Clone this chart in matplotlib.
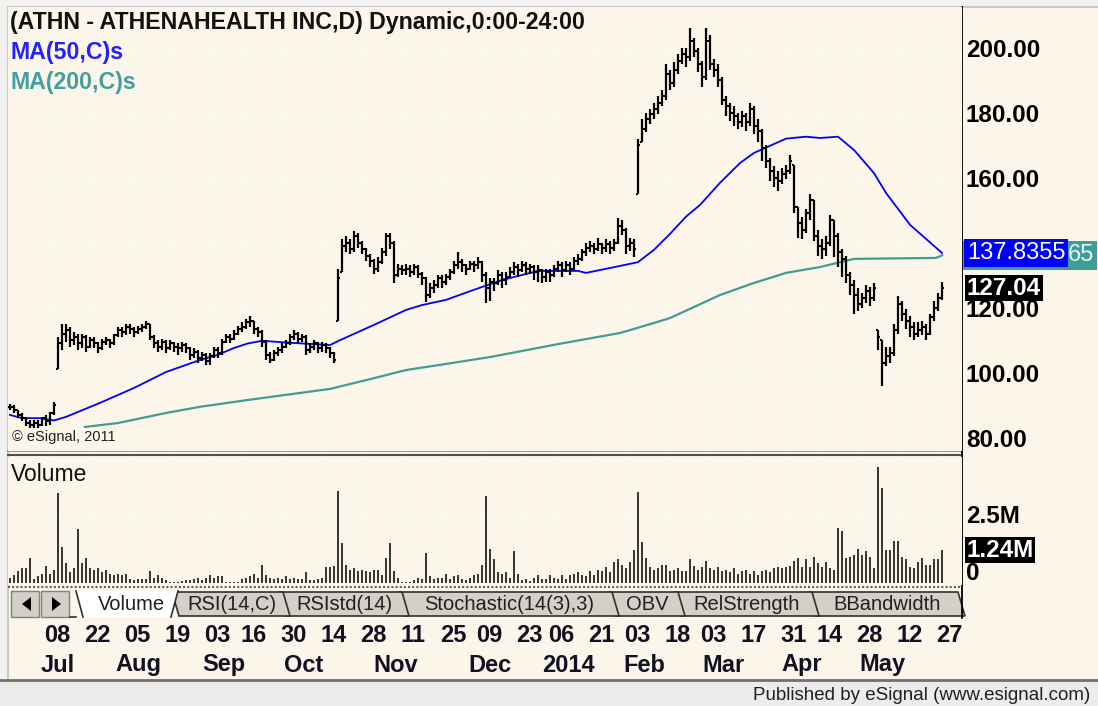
import numpy as np
import matplotlib
matplotlib.use('Agg')
import matplotlib.pyplot as plt
from matplotlib.patches import Rectangle, Polygon
from matplotlib.transforms import blended_transform_factory

plt.rcParams['font.family'] = ['Liberation Sans', 'DejaVu Sans']

W, H = 1098, 706
CREAM = '#fcf6ea'
BLUE = '#0000ff'
TEAL = '#3f9d98'

# daily bars, 21 Jun 2013 .. 27 May 2014
close = [90.5, 89.5, 88.0, 87.0, 85.5, 85.0, 85.5, 85.0, 87.0, 86.0,
         88.5, 91.0, 110.0, 113.0, 114.0, 111.0, 112.0, 110.0, 112.0, 109.0,
         111.0, 110.0, 108.5, 110.5, 111.0, 110.0, 112.5, 114.0, 113.5, 115.0,
         114.5, 113.5, 114.5, 115.0, 116.0, 112.0, 110.0, 109.0, 110.5, 108.5,
         110.0, 109.0, 108.5, 109.5, 108.5, 106.5, 107.5, 105.5, 106.5, 104.5,
         106.0, 108.0, 107.0, 110.5, 112.0, 111.5, 113.0, 114.5, 115.0, 116.5,
         117.0, 114.5, 113.5, 110.5, 106.5, 105.0, 107.0, 108.0, 109.0, 110.0,
         112.0, 113.0, 111.5, 112.0, 108.0, 109.0, 110.0, 108.5, 109.5, 108.5,
         107.0, 105.0, 130.0, 140.0, 141.0, 139.0, 143.0, 141.0, 139.0, 137.0,
         135.5, 133.0, 135.0, 138.0, 143.0, 141.0, 131.0, 133.0, 132.5, 133.0,
         132.0, 133.5, 131.5, 130.0, 125.0, 127.0, 128.0, 130.0, 129.0, 130.5,
         132.0, 134.0, 135.0, 134.0, 133.0, 134.5, 134.0, 135.0, 131.0, 127.0,
         129.0, 128.5, 131.0, 129.5, 130.5, 132.0, 133.5, 132.5, 134.0, 133.0,
         133.5, 132.0, 132.5, 130.5, 132.0, 131.0, 133.0, 134.0, 132.5, 134.0,
         133.0, 135.5, 136.0, 138.0, 139.5, 140.0, 139.0, 140.5, 139.5, 140.5,
         139.5, 141.0, 146.0, 145.0, 140.0, 141.0, 139.0, 171.0, 176.0, 179.0,
         180.5, 182.0, 184.0, 186.0, 193.0, 190.0, 194.0, 197.0, 199.0, 198.0,
         203.0, 200.0, 196.0, 192.0, 203.0, 196.0, 194.0, 191.0, 185.0, 183.0,
         181.0, 180.0, 178.0, 180.0, 178.0, 182.0, 177.0, 175.5, 170.0, 166.0,
         163.0, 161.0, 160.0, 162.0, 163.0, 166.0, 152.0, 147.0, 145.0, 150.0,
         154.0, 143.0, 140.0, 139.0, 141.0, 148.0, 143.0, 138.0, 136.0, 131.0,
         128.0, 125.0, 122.0, 124.0, 126.0, 124.0, 127.0, 112.0, 104.0, 106.0,
         107.0, 114.0, 122.0, 119.0, 117.0, 115.0, 113.0, 114.0, 115.0, 113.0,
         118.0, 121.0, 124.0, 127.04]

high = [91.5, 91.0, 89.5, 88.5, 87.5, 86.5, 86.5, 86.5, 87.5, 88.0,
        89.0, 92.0, 112.0, 116.0, 116.0, 115.0, 113.5, 113.0, 113.0, 112.5,
        112.0, 112.0, 110.5, 111.5, 112.0, 111.5, 113.0, 115.0, 115.0, 116.0,
        116.0, 115.0, 115.5, 116.0, 117.0, 116.0, 112.5, 111.0, 111.5, 111.0,
        111.0, 110.5, 110.0, 110.5, 110.0, 109.0, 108.5, 108.0, 107.5, 107.0,
        107.0, 109.0, 109.0, 111.5, 113.0, 113.0, 114.0, 115.5, 116.5, 117.5,
        118.5, 117.0, 115.0, 114.0, 111.0, 107.5, 108.0, 109.0, 110.0, 111.0,
        113.0, 114.0, 113.5, 113.0, 112.5, 110.0, 111.0, 110.5, 110.5, 110.0,
        109.0, 107.5, 133.0, 142.0, 143.0, 142.0, 144.5, 144.0, 141.5, 139.5,
        137.5, 136.0, 136.5, 139.5, 144.0, 144.0, 141.5, 134.5, 134.0, 134.5,
        134.0, 134.5, 134.0, 132.0, 130.5, 128.5, 129.5, 131.0, 131.0, 131.5,
        133.0, 135.5, 138.0, 136.0, 134.5, 135.5, 135.5, 136.5, 135.5, 132.0,
        130.0, 130.0, 132.5, 132.0, 132.0, 133.5, 135.0, 134.5, 135.5, 135.0,
        134.5, 134.0, 134.0, 133.0, 133.0, 133.0, 134.0, 135.5, 135.0, 135.5,
        135.0, 136.5, 137.5, 139.0, 141.0, 141.5, 141.0, 142.5, 141.0, 142.0,
        141.5, 142.0, 148.5, 148.0, 145.5, 142.5, 142.0, 173.0, 179.0, 181.0,
        182.0, 184.0, 186.0, 188.0, 196.0, 194.0, 196.5, 199.0, 201.0, 201.0,
        207.0, 204.0, 201.0, 197.0, 207.0, 205.0, 197.5, 196.0, 192.0, 186.0,
        184.0, 183.0, 181.0, 181.5, 181.0, 184.0, 183.0, 179.0, 176.0, 171.0,
        167.0, 164.5, 163.0, 164.0, 165.0, 168.0, 165.0, 152.0, 149.0, 151.5,
        156.0, 154.0, 145.0, 142.0, 143.0, 149.5, 148.0, 144.0, 139.0, 137.0,
        132.0, 129.5, 127.0, 125.5, 128.0, 127.5, 128.5, 114.0, 111.0, 109.0,
        109.0, 116.0, 124.5, 123.0, 120.5, 118.5, 116.5, 116.5, 117.0, 116.0,
        119.0, 123.0, 125.5, 129.0]

low = [89.5, 88.5, 87.0, 86.0, 84.5, 84.0, 84.0, 84.0, 84.5, 84.5,
       85.0, 88.0, 102.0, 108.0, 110.5, 109.0, 109.5, 108.0, 108.5, 107.5,
       108.5, 108.5, 107.0, 108.0, 109.5, 108.5, 109.5, 112.0, 112.0, 112.5,
       113.0, 112.0, 113.0, 113.5, 114.5, 111.0, 108.5, 107.5, 108.0, 107.0,
       108.0, 107.5, 106.5, 107.5, 107.0, 105.0, 105.5, 104.0, 104.5, 103.5,
       103.5, 105.5, 105.5, 106.5, 110.0, 110.0, 111.0, 112.5, 113.5, 114.5,
       115.0, 113.0, 112.0, 109.0, 105.0, 104.0, 104.5, 106.0, 107.0, 108.5,
       109.5, 111.0, 110.0, 110.5, 106.5, 107.0, 108.0, 107.0, 107.5, 107.0,
       105.5, 104.0, 117.0, 132.0, 138.0, 137.5, 138.0, 139.5, 137.5, 135.5,
       133.5, 131.5, 132.0, 134.5, 137.0, 139.0, 128.5, 130.5, 131.0, 131.0,
       130.5, 131.0, 130.0, 128.0, 122.8, 124.0, 125.5, 127.0, 127.0, 128.0,
       129.5, 131.5, 133.0, 132.0, 131.0, 132.5, 132.0, 133.0, 129.0, 122.5,
       123.0, 126.0, 128.0, 127.0, 128.0, 130.0, 131.0, 130.5, 132.0, 131.0,
       131.5, 129.5, 129.0, 128.5, 129.0, 129.0, 130.5, 132.0, 130.5, 132.0,
       131.0, 132.5, 134.0, 135.5, 137.0, 138.0, 137.5, 138.5, 137.5, 138.0,
       137.5, 138.5, 140.5, 143.5, 137.5, 138.5, 136.5, 156.0, 172.0, 175.0,
       177.5, 179.0, 180.5, 183.0, 185.0, 188.0, 189.0, 193.0, 196.0, 195.0,
       197.0, 198.0, 193.5, 189.0, 191.0, 194.0, 192.0, 189.0, 183.5, 180.0,
       178.5, 177.0, 176.0, 176.5, 175.5, 177.0, 174.5, 172.0, 166.0, 164.0,
       160.0, 158.0, 157.0, 159.0, 160.5, 162.0, 150.0, 142.5, 142.0, 144.0,
       148.0, 141.5, 137.0, 136.0, 137.0, 140.0, 136.5, 133.5, 130.5, 128.5,
       125.0, 119.0, 120.0, 121.0, 122.5, 121.5, 123.0, 108.0, 97.0, 103.0,
       104.0, 106.0, 113.0, 117.0, 114.5, 112.0, 111.0, 112.0, 112.5, 111.0,
       112.5, 117.0, 120.0, 123.5]

# volume, millions of shares
volume = [0.2, 0.3, 0.45, 0.55, 0.55, 0.95, 0.15, 0.25, 0.35, 0.65,
          0.35, 0.5, 3.4, 1.35, 0.75, 0.4, 0.55, 2.05, 0.75, 0.95,
          0.55, 0.5, 0.58, 0.4, 0.5, 0.35, 0.3, 0.35, 0.3, 0.35,
          0.15, 0.1, 0.15, 0.15, 0.15, 0.45, 0.2, 0.3, 0.2, 0.1,
          0.03, 0.03, 0.03, 0.08, 0.12, 0.1, 0.15, 0.2, 0.1, 0.2,
          0.3, 0.2, 0.25, 0.25, 0.03, 0.03, 0.03, 0.03, 0.15, 0.2,
          0.25, 0.35, 0.2, 0.67, 0.3, 0.2, 0.15, 0.2, 0.15, 0.25,
          0.15, 0.2, 0.15, 0.15, 0.42, 0.1, 0.1, 0.15, 0.2, 0.6,
          0.6, 0.65, 3.5, 1.5, 0.7, 0.5, 0.55, 0.45, 0.5, 0.45,
          0.4, 0.5, 0.5, 0.3, 0.95, 1.5, 0.45, 0.2, 0.05, 0.05,
          0.05, 0.1, 0.2, 0.15, 1.15, 0.25, 0.15, 0.2, 0.2, 0.35,
          0.15, 0.25, 0.3, 0.15, 0.1, 0.2, 0.3, 0.35, 0.7, 3.3,
          1.3, 0.9, 0.4, 0.35, 0.4, 0.2, 1.2, 0.35, 0.1, 0.15,
          0.08, 0.2, 0.3, 0.15, 0.15, 0.3, 0.2, 0.15, 0.3, 0.15,
          0.3, 0.35, 0.4, 0.3, 0.25, 0.45, 0.3, 0.5, 0.45, 0.6,
          0.4, 0.8, 0.9, 0.7, 0.55, 0.8, 1.25, 3.45, 1.55, 0.95,
          0.6, 0.5, 0.55, 0.7, 0.7, 0.45, 0.5, 0.55, 0.45, 0.45,
          0.9, 0.65, 0.5, 0.6, 0.85, 0.55, 0.5, 0.6, 0.45, 0.5,
          0.4, 0.55, 0.35, 0.45, 0.5, 0.35, 0.45, 0.3, 0.45, 0.5,
          0.4, 0.55, 0.6, 0.55, 0.6, 0.65, 0.85, 0.95, 0.6, 0.9,
          0.6, 1.0, 0.75, 0.6, 0.8, 0.55, 0.5, 2.1, 1.95, 0.95,
          1.0, 1.05, 1.3, 1.05, 1.2, 1.0, 0.55, 4.4, 3.6, 1.25,
          1.25, 1.6, 1.6, 1.0, 0.9, 0.6, 0.55, 0.8, 0.95, 0.7,
          0.7, 0.9, 0.9, 1.24]

# moving averages as drawn (bar index, value)
ma50_at = [0, 3, 7.5, 11, 14, 22.5, 31, 39, 47.5, 52, 56, 59.5, 63, 70, 80, 82.5,
           91, 99, 103, 109, 116, 123, 132, 142, 144, 150, 157, 161, 165, 169,
           172.5, 177.5, 182.5, 186, 194, 199, 202.5, 207, 211, 216, 219, 225, 233]
ma50 = [88.0, 87.0, 87.0, 86.3, 87.4, 91.7, 96.3, 101.2, 104.9, 106.5, 108.6, 110.0,
        110.8, 110.2, 109.5, 111.0, 115.7, 120.3, 121.8, 123.4, 126.5, 129.5, 132.3,
        132.3, 131.7, 133.2, 135.0, 138.8, 143.7, 149.0, 152.6, 159.4, 165.5, 168.6,
        173.0, 173.6, 173.2, 173.6, 169.5, 162.4, 156.3, 146.5, 137.8355]
ma200_at = [18.75, 27, 39, 47.5, 59.5, 80, 90, 99, 107.5, 120, 137.5, 152.5, 157.5,
            165, 177.5, 186, 194, 202.5, 211, 231.5, 233]
ma200 = [84.3, 85.5, 88.6, 90.5, 92.6, 96.0, 99.0, 101.8, 103.4, 105.8, 109.9, 113.2,
         115.0, 117.8, 124.9, 128.6, 131.7, 133.5, 136.0, 136.3, 137.1]

# date axis
day_labels = ['08', '22', '05', '19', '03', '16', '30', '14', '28', '11', '25', '09',
              '23', '06', '21', '03', '18', '03', '17', '31', '14', '28', '12', '27']
day_bar = [10, 20, 30, 40, 50, 59, 69, 79, 89, 99, 109, 118,
           128, 136, 146, 155, 165, 174, 184, 194, 203, 213, 223, 233]
month_labels = ['Jul', 'Aug', 'Sep', 'Oct', 'Nov', 'Dec', '2014', 'Feb', 'Mar', 'Apr', 'May']
month_pos = [12, 32, 53.5, 73.5, 96.5, 120, 139.5, 158.5, 178.5, 198, 218]

# 140.00 sits under the MA(50) value box on the chart, so it is not drawn
price_ticks = [200, 180, 160, 120, 100, 80]
tabs = ['Volume', 'RSI(14,C)', 'RSIstd(14)', 'Stochastic(14(3),3)', 'OBV',
        'RelStrength', 'BBandwidth']
tab_x = [(76, 178), (172, 283), (279, 402), (398, 612), (608, 678), (674, 812), (808, 958)]


def box(x0, y0, x1, y1):
    return [x0 / W, 1 - y1 / H, (x1 - x0) / W, (y1 - y0) / H]


fig = plt.figure(figsize=(W / 100, H / 100), dpi=100)
fig.patch.set_facecolor(CREAM)

# background / frame pieces in pixel coordinates
bg = fig.add_axes([0, 0, 1, 1])
bg.set_xlim(0, W)
bg.set_ylim(H, 0)
bg.axis('off')
bg.add_patch(Rectangle((0, 0), W, 7, color='#f2f2f2'))
bg.add_patch(Rectangle((0, 0), 8, H, color='#f2f2f2'))
bg.plot([8, 8], [7, 680], color='#c8c8c8', lw=1.5)
bg.plot([8, W], [7, 7], color='#c8c8c8', lw=1.5)
bg.add_patch(Rectangle((0, 681), W, 25, color='#ececec'))
bg.plot([0, W], [680, 680], color='#707070', lw=2)
bg.plot([8, 962], [451, 451], color='#9a9a9a', lw=1.5)
bg.plot([8, 962], [455, 455], color='#505050', lw=1.5)
bg.plot([8, 962], [587, 587], color='#606060', lw=1.5, ls=(0, (1, 1)))
bg.plot([962, 962], [7, 618], color='black', lw=1.3)

# scroll buttons
for bx0, pts in [(11, [(31, 597), (31, 611), (22, 604)]), (41, [(52, 597), (52, 611), (61, 604)])]:
    bg.add_patch(Rectangle((bx0, 591), 28, 26, fc='#d4d0c8', ec='#808080', lw=1))
    bg.add_patch(Polygon(pts, closed=True, fc='black', ec='none'))

# tabs
for k in range(len(tabs) - 1, 0, -1):
    x0, x1 = tab_x[k]
    bg.add_patch(Polygon([(x0, 592), (x1, 592), (x1 + 7, 616), (x0 + 7, 616)],
                         closed=True, fc='#d4d0c8', ec='#303030', lw=1.2))
    bg.text((x0 + x1) / 2 + 4, 604, tabs[k], ha='center', va='center',
            fontsize=14.5, color='#202020')
x0, x1 = tab_x[0]
bg.add_patch(Polygon([(x0, 591), (x1, 591), (x1 - 7, 617), (x0 + 7, 617)],
                     closed=True, fc='white', ec='none'))
bg.plot([x0, x0 + 7], [591, 617], color='#303030', lw=1.2)
bg.plot([x1, x1 - 7], [591, 617], color='#303030', lw=1.2)
bg.text((x0 + x1) / 2 + 4, 604, tabs[0], ha='center', va='center', fontsize=14.5, color='#202020')
bg.plot([70, 76], [617, 617], color='#303030', lw=1.2)

fig.text(1090 / W, 1 - 695 / H, 'Published by eSignal (www.esignal.com)', ha='right',
         va='center', fontsize=13.5, color='#202020')

# price panel
idx = np.arange(len(close))
c = np.array(close)
o = np.clip(np.r_[c[0], c[:-1]], low, high)

ax = fig.add_axes(box(8, 7, 962, 451))
ax.set_facecolor(CREAM)
ax.set_xlim(-0.5, 238)
ax.set_ylim(76.9, 213.5)
for s in ax.spines.values():
    s.set_visible(False)
ax.set_xticks([])
ax.set_yticks([])
for p in [200, 180, 160, 140, 120, 100]:
    ax.axhline(p, color='white', lw=1.2, ls=(0, (1, 4)), zorder=1)
for d in day_bar:
    ax.axvline(d, color='white', lw=1.2, ls=(0, (1, 4)), zorder=1)

ax.plot(ma200_at, ma200, color=TEAL, lw=1.6, zorder=2)
ax.plot(ma50_at, ma50, color=BLUE, lw=1.3, zorder=2)
ax.vlines(idx, low, high, color='black', lw=1.6, zorder=3)
ax.hlines(c, idx, idx + 0.55, color='black', lw=1.5, zorder=3)
ax.hlines(o, idx - 0.55, idx, color='black', lw=1.5, zorder=3)

ytr = ax.get_yaxis_transform()
for p in price_ticks:
    ax.text(1.004, p, f'{p:.2f}', transform=ytr, ha='left', va='center', fontsize=17.5,
            fontweight='bold', color='black', clip_on=False, zorder=5)
ax.add_patch(Rectangle((1.001, ma200[-1] - 4.4), 0.14, 8.8, transform=ytr, fc=TEAL,
                       ec='none', clip_on=False, zorder=6))
ax.text(1.111, ma200[-1], '65', transform=ytr, ha='left', va='center', fontsize=17,
        color='#e8f4f0', clip_on=False, zorder=7)
ax.text(1.005, ma50[-1], f'{ma50[-1]:.4f}', transform=ytr, ha='left', va='center',
        fontsize=17, color='white', clip_on=False, zorder=8,
        bbox=dict(boxstyle='square,pad=0.12', fc=BLUE, ec='none'))
ax.text(1.005, close[-1], f'{close[-1]:.2f}', transform=ytr, ha='left', va='center',
        fontsize=17.5, fontweight='bold', color='white', clip_on=False, zorder=8,
        bbox=dict(boxstyle='square,pad=0.08', fc='black', ec='none'))

fig.text(10 / W, 1 - 22 / H, '(ATHN - ATHENAHEALTH INC,D) Dynamic,0:00-24:00',
         ha='left', va='center', fontsize=16.7, fontweight='bold', color='#111111')
fig.text(10 / W, 1 - 52 / H, 'MA(50,C)s', ha='left', va='center', fontsize=16.7,
         fontweight='bold', color='#2222ff')
fig.text(10 / W, 1 - 82 / H, 'MA(200,C)s', ha='left', va='center', fontsize=16.7,
         fontweight='bold', color='#40a0a0')
fig.text(12 / W, 1 - 437 / H, '\u00a9 eSignal, 2011', ha='left', va='center',
         fontsize=10.5, color='#222222')

# volume panel
av = fig.add_axes(box(8, 457, 962, 585))
av.set_facecolor(CREAM)
av.set_xlim(-0.5, 238)
av.set_ylim(-0.076, 4.77)
for s in av.spines.values():
    s.set_visible(False)
av.set_xticks([])
av.set_yticks([])
av.axhline(2.5, color='white', lw=1.2, ls=(0, (1, 4)), zorder=1)
for d in day_bar:
    av.axvline(d, color='white', lw=1.2, ls=(0, (1, 4)), zorder=1)
av.vlines(idx, 0, volume, color='black', lw=1.1, zorder=3)
av.text(0.003, 0.86, 'Volume', transform=av.transAxes, ha='left', va='center',
        fontsize=16.5, color='#111111')
vtr = av.get_yaxis_transform()
av.text(1.004, 2.5, '2.5M', transform=vtr, ha='left', va='center', fontsize=17.5,
        fontweight='bold', clip_on=False)
av.text(1.004, -0.09, '0', transform=vtr, ha='left', va='bottom', fontsize=17.5,
        fontweight='bold', clip_on=False)
av.text(1.005, volume[-1], f'{volume[-1]:.2f}M', transform=vtr, ha='left', va='center',
        fontsize=17.5, fontweight='bold', color='white', clip_on=False, zorder=8,
        bbox=dict(boxstyle='square,pad=0.06', fc='black', ec='none'))

# date labels
dtr = blended_transform_factory(av.transData, fig.transFigure)
for lab, d in zip(day_labels, day_bar):
    av.text(d + 1.8, 1 - 636 / H, lab, transform=dtr, ha='center', va='center',
            fontsize=17, fontweight='bold', color='#111122', clip_on=False)
for lab, d in zip(month_labels, month_pos):
    av.text(d, 1 - 665 / H, lab, transform=dtr, ha='center', va='center',
            fontsize=17, fontweight='bold', color='#111122', clip_on=False)

fig.savefig('out.png', dpi=100, facecolor=fig.get_facecolor())
